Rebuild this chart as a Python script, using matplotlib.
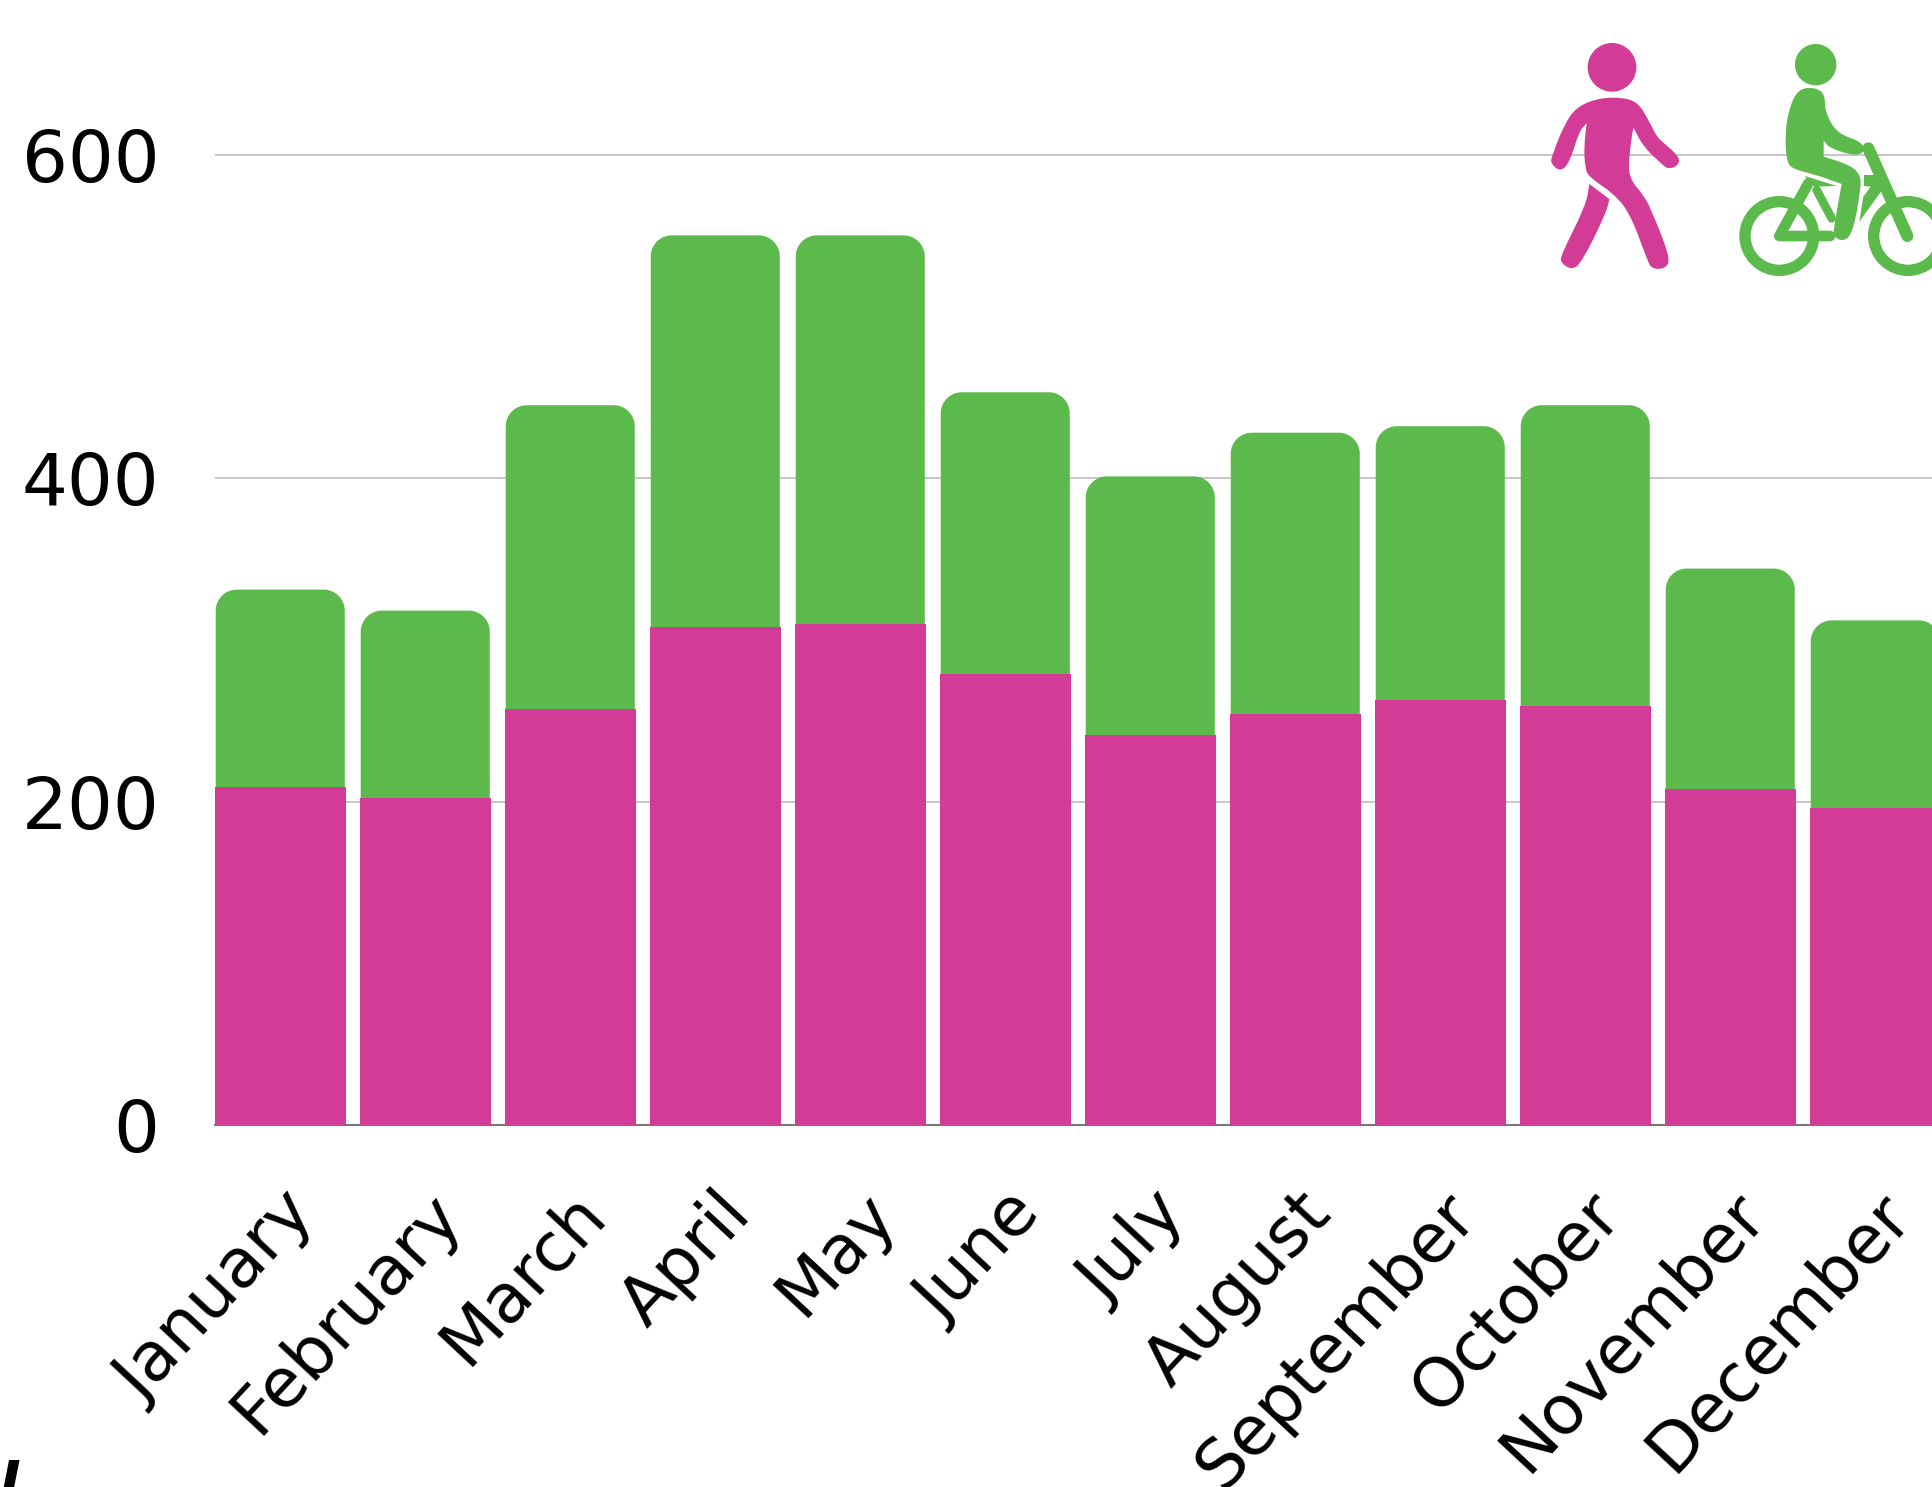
import numpy as np
import matplotlib
matplotlib.use("Agg")
import matplotlib.pyplot as plt
from matplotlib.path import Path
from matplotlib.patches import PathPatch, Circle, Polygon

months = ["January", "February", "March", "April", "May", "June", "July",
          "August", "September", "October", "November", "December"]
walking = [209, 202, 257, 308, 310, 279, 241, 254, 263, 259, 208, 196]
cycling = [122, 116, 188, 242, 240, 174, 160, 174, 169, 186, 136, 116]
y_ticks = [0, 200, 400, 600]

PINK = "#d33c96"
GREEN = "#5cb94b"
W, H = 1932, 1487

plt.rcParams["font.family"] = ["DejaVu Sans"]

fig = plt.figure(figsize=(W / 100, H / 100), dpi=100)
ax = fig.add_axes([215 / W, 1 - 1125 / H, (W - 215) / W, 1125 / H])

px_per_x = 145.0
px_per_y = 323.5 / 200
ax.set_xlim(-0.45, (W - 215) / px_per_x - 0.45)
ax.set_ylim(0, 1125 / px_per_y)

x = np.arange(len(months))
ax.yaxis.grid(True, color="#bdbdbd", linewidth=1.2, zorder=0)
ax.set_axisbelow(True)


def rounded_top(x0, x1, top, rx, ry):
    k = 0.45
    verts = [(x0, 0), (x0, top - ry), (x0, top - ry * k), (x0 + rx * k, top), (x0 + rx, top),
             (x1 - rx, top), (x1 - rx * k, top), (x1, top - ry * k), (x1, top - ry),
             (x1, 0), (x0, 0)]
    codes = [Path.MOVETO, Path.LINETO, Path.CURVE4, Path.CURVE4, Path.CURVE4,
             Path.LINETO, Path.CURVE4, Path.CURVE4, Path.CURVE4, Path.LINETO, Path.CLOSEPOLY]
    return Path(verts, codes)


# green bars get round tops, the pink ones sit in front of them
for i, (w, c) in enumerate(zip(walking, cycling)):
    ax.add_patch(PathPatch(rounded_top(i - 0.445, i + 0.445, w + c, 21 / px_per_x, 21 / px_per_y),
                           facecolor=GREEN, edgecolor="none", zorder=2))
ax.bar(x, walking, width=0.9, color=PINK, linewidth=0, zorder=3)

for s in ["top", "right", "left"]:
    ax.spines[s].set_visible(False)
ax.spines["bottom"].set_color("#777777")
ax.spines["bottom"].set_linewidth(1.5)

ax.set_yticks(y_ticks)
ax.set_yticklabels([str(v) for v in y_ticks], fontsize=52)
ax.tick_params(axis="y", length=0, pad=40)
ax.set_xticks(x)
ax.set_xticklabels(months, fontsize=49, rotation=47, ha="right", va="top", rotation_mode="anchor")
ax.tick_params(axis="x", length=0, pad=40)

# icons, drawn in image pixels on top of the plot
ov = fig.add_axes([0, 0, 1, 1], facecolor="none")
ov.set_xlim(0, W)
ov.set_ylim(H, 0)
ov.axis("off")


def zp(points):
    return [(1500 + a / 3, 20 + b / 3) for a, b in points]


def blob(points, color, sharp=()):
    # quadratic smoothing through midpoints, listed indices stay as corners
    pts = []
    for i, p in enumerate(zp(points)):
        pts.append(p)
        if i in sharp:
            pts.append(p)
    pts = np.array(pts)
    mids = (pts + np.roll(pts, -1, axis=0)) / 2
    verts = [mids[-1]]
    codes = [Path.MOVETO]
    for p, m in zip(pts, mids):
        verts += [p, m]
        codes += [Path.CURVE3, Path.CURVE3]
    ov.add_patch(PathPatch(Path(verts, codes), facecolor=color, edgecolor="none", zorder=6))


def limb(points, color, width):
    pts = np.array(zp(points))
    ov.plot(pts[:, 0], pts[:, 1], color=color, linewidth=width * 0.72,
            solid_capstyle="round", solid_joinstyle="round", zorder=6)


# walker
ov.add_patch(Circle((1500 + 336 / 3, 20 + 142 / 3), 71 / 3, color=PINK, zorder=6))
blob([(300, 233), (375, 233), (415, 250), (440, 290), (468, 345), (480, 360), (537, 408), (537, 435),
      (505, 448), (485, 432), (430, 380), (400, 322), (388, 400), (386, 473), (430, 525), (452, 565),
      (510, 710), (500, 745), (455, 748), (440, 715), (390, 580), (340, 520), (265, 470), (255, 440),
      (252, 380), (260, 310), (237, 335), (208, 430), (180, 455), (152, 430), (155, 410), (192, 315),
      (230, 260)],
     PINK, sharp=(11, 25))
blob([(268, 492), (328, 537), (318, 580), (245, 728), (215, 750), (182, 728), (183, 705), (258, 555)],
     PINK, sharp=(0, 1))

# cyclist
ov.add_patch(Circle((1500 + 947 / 3, 20 + 134 / 3), 60 / 3, color=GREEN, zorder=6))
blob([(895, 205), (950, 203), (975, 225), (975, 275), (1010, 340), (1085, 365), (1095, 395), (1065, 408),
      (990, 385), (971, 362), (971, 410), (1050, 435), (1082, 465), (1082, 510), (1058, 640), (1030, 665),
      (1000, 650), (1002, 620), (1025, 492), (950, 465), (878, 447), (860, 425), (855, 350), (865, 270)],
     GREEN, sharp=(9, 10, 18))
for cx in [838, 1224]:
    ov.add_patch(Circle((1500 + cx / 3, 20 + 648 / 3), 103 / 3, facecolor="none",
                        edgecolor=GREEN, linewidth=34 / 3 * 0.72, zorder=6))
limb([(1105, 385), (1222, 648)], GREEN, 36 / 3)
limb([(925, 490), (838, 648), (990, 648)], GREEN, 32 / 3)
limb([(950, 510), (995, 595)], GREEN, 26 / 3)
ov.add_patch(Polygon(zp([(915, 468), (1010, 498), (945, 500), (925, 488)]),
                     closed=True, color=GREEN, linewidth=0, zorder=6))
ov.add_patch(Polygon(zp([(1092, 465), (1125, 465), (1145, 512), (1078, 605), (1090, 530), (1112, 500), (1092, 498)]),
                     closed=True, color=GREEN, linewidth=0, zorder=6))

# top of a letter from the next line, cut by the bottom edge of the image
fig.text(0 / W, 1 - 1458 / H, "I", fontsize=40, fontweight="bold", fontstyle="italic", va="top", ha="left")

fig.savefig("out.png", dpi=100, facecolor="white")
